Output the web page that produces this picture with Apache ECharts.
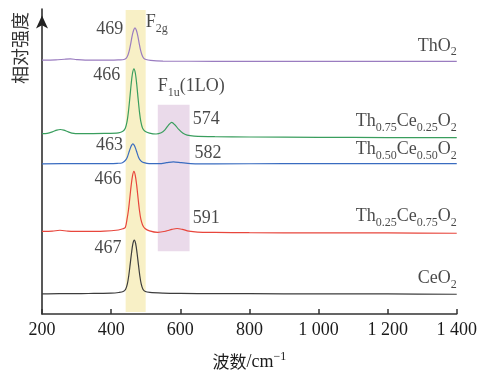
<!DOCTYPE html>
<html><head><meta charset="utf-8">
<script src="https://cdn.jsdelivr.net/npm/echarts@6/dist/echarts.min.js"></script>
<style>html,body{margin:0;padding:0;background:#fff}#c{width:480px;height:376px}</style>
</head><body><div id="c"></div>
<script>
var xTicks = ['200','400','600','800','1 000','1 200','1 400'];
var ceo2 = [[200,6.7],[250,6.8],[300,6.8],[350,6.9],[400,7.0],[422,7.2],[435,7.5],[442,8.3],[447,10.1],[451,12.8],[455,16.5],[459,20.4],[463,23.5],[467,24.7],[471,23.5],[475,20.4],[479,16.5],[483,12.8],[487,10.1],[492,8.3],[499,7.5],[512,7.2],[550,7.0],[600,6.9],[700,6.8],[800,6.8],[1000,6.7],[1200,6.7],[1400,6.6]];
var th25 = [[200,27.6],[230,27.7],[252,28.0],[275,27.7],[320,27.6],[380,27.7],[421,28.1],[434,28.5],[441,28.9],[446,31.7],[450,34.6],[454,38.7],[458,43.0],[462,46.3],[466,47.7],[470,46.3],[474,43.0],[478,38.7],[482,34.6],[486,31.7],[491,29.8],[498,28.6],[511,27.8],[535,27.3],[558,27.7],[576,28.3],[591,28.6],[606,28.3],[625,27.7],[650,27.4],[700,27.3],[800,27.2],[1000,27.1],[1200,27.1],[1400,27.0]];
var th50 = [[200,50.2],[300,50.3],[380,50.3],[418,50.4],[431,50.5],[438,51.0],[443,51.6],[447,52.5],[451,53.9],[455,55.3],[459,56.4],[463,56.9],[467,56.4],[471,55.3],[475,53.9],[479,52.5],[483,51.6],[488,51.0],[495,50.6],[510,50.3],[540,50.3],[560,50.6],[580,50.9],[603,50.6],[630,50.3],[700,50.2],[900,50.3],[1100,50.3],[1400,50.3]];
var th75 = [[200,60.3],[215,60.4],[230,60.9],[243,61.5],[253,61.7],[263,61.5],[276,60.9],[292,60.4],[320,60.3],[380,60.4],[421,60.6],[434,61.1],[441,62.1],[446,64.3],[450,67.6],[454,72.1],[458,76.9],[462,80.6],[466,82.0],[470,80.6],[474,76.9],[478,72.1],[482,67.6],[486,64.3],[491,62.1],[498,61.1],[511,60.5],[530,60.2],[545,60.6],[555,61.5],[565,63.0],[575,64.1],[585,63.2],[595,61.8],[607,60.5],[620,59.8],[640,59.5],[700,59.3],[800,59.2],[1000,59.1],[1200,59.0],[1400,59.0]];
var tho2 = [[200,84.9],[240,85.0],[265,85.2],[282,85.3],[300,85.1],[340,84.9],[400,84.9],[424,85.0],[437,85.1],[444,85.6],[449,86.7],[453,88.3],[457,90.6],[461,93.1],[465,94.9],[469,95.7],[473,94.9],[477,93.1],[481,90.6],[485,88.3],[489,86.7],[494,85.6],[501,85.1],[514,84.8],[550,84.6],[700,84.5],[900,84.5],[1100,84.5],[1400,84.5]];
var bandF2g = [442, 500, 0.7, 101.7];
var bandF1u = [535, 627, 21, 70];
// [x, y, text, align]
var peakLabels = [
  [396, 95.3, '469', 'center'],
  [387, 79.7, '466', 'center'],
  [395, 56.3, '463', 'center'],
  [391, 45.0, '466', 'center'],
  [391, 22.0, '467', 'center'],
  [675, 65.2, '574', 'center'],
  [680, 53.7, '582', 'center'],
  [675, 32.0, '591', 'center'],
  [500, 97.5, '{n|F}{s|2g}', 'left'],
  [535, 76.0, '{n|F}{s|1u}{n|(1LO)}', 'left']
];
var nameLabels = [
  [1400, 89.7, '{n|ThO}{s|2}', 'right'],
  [1400, 64.5, '{n|Th}{s|0.75}{n|Ce}{s|0.25}{n|O}{s|2}', 'right'],
  [1400, 55.2, '{n|Th}{s|0.50}{n|Ce}{s|0.50}{n|O}{s|2}', 'right'],
  [1400, 32.8, '{n|Th}{s|0.25}{n|Ce}{s|0.75}{n|O}{s|2}', 'right'],
  [1400, 11.8, '{n|CeO}{s|2}', 'right']
];
var serif = '"Liberation Serif","Times New Roman",serif';
var tc = '#1a1a1a';
var rich = {
  n: {fontFamily: serif, fontSize: 18, color: tc, lineHeight: 25},
  s: {fontFamily: serif, fontSize: 12, color: tc, lineHeight: 12, verticalAlign: 'bottom'}
};
function mkLabels(arr) {
  return arr.map(function (d) {
    return {value: [d[0], d[1]], label: {formatter: d[2].indexOf('{') === 0 ? d[2] : '{n|' + d[2] + '}', align: d[3]}};
  });
}
var chart = echarts.init(document.getElementById('c'), null, {renderer: 'canvas'});
var lw = 1.2;
chart.setOption({
  animation: false,
  grid: {left: 42, right: 22, top: 9, bottom: 61},
  xAxis: {
    type: 'value', min: 200, max: 1400, interval: 200,
    axisLine: {lineStyle: {color: '#333', width: 1.5}},
    axisTick: {inside: true, length: 5, lineStyle: {color: '#333', width: 1.5}},
    splitLine: {show: false},
    axisLabel: {margin: 7, fontFamily: serif, fontSize: 18, color: tc,
      formatter: function (v) { return xTicks[Math.round((v - 200) / 200)]; }},
    name: '{c|波数}{r|/cm}{p|−1}', nameLocation: 'middle', nameGap: 37,
    nameTextStyle: {rich: {
      c: {fontFamily: '"Noto Sans CJK SC"', fontSize: 17, color: tc, lineHeight: 22},
      r: {fontFamily: serif, fontSize: 18, color: tc, lineHeight: 22},
      p: {fontFamily: serif, fontSize: 12, color: tc, lineHeight: 12, verticalAlign: 'top'}
    }}
  },
  yAxis: {
    type: 'value', min: 0, max: 102,
    axisLine: {show: true, symbol: ['none', 'arrow'], symbolSize: [9, 13], symbolOffset: [0, -6.5], lineStyle: {color: '#222', width: 1.5}},
    axisTick: {show: false}, axisLabel: {show: false}, splitLine: {show: false}
  },
  graphic: [{type: 'text', x: 20, y: 48, rotation: Math.PI / 2,
    style: {text: '相对强度', font: '18px "Noto Sans CJK SC"', fill: '#333', textAlign: 'center', textVerticalAlign: 'middle'}}],
  series: [
    {type: 'line', z: 1, data: [], silent: true,
      markArea: {silent: true, data: [
        [{coord: [bandF2g[0], bandF2g[2]], itemStyle: {color: '#f8f0c6'}}, {coord: [bandF2g[1], bandF2g[3]]}],
        [{coord: [bandF1u[0], bandF1u[2]], itemStyle: {color: '#eadaea'}}, {coord: [bandF1u[1], bandF1u[3]]}]
      ]}},
    {name: 'CeO2', type: 'line', z: 3, data: ceo2, smooth: 0.3, showSymbol: false, lineStyle: {color: '#3d3d3d', width: lw}},
    {name: 'Th0.25', type: 'line', z: 3, data: th25, smooth: 0.3, showSymbol: false, lineStyle: {color: '#e8463c', width: lw}},
    {name: 'Th0.50', type: 'line', z: 3, data: th50, smooth: 0.3, showSymbol: false, lineStyle: {color: '#3a6cc0', width: lw}},
    {name: 'Th0.75', type: 'line', z: 3, data: th75, smooth: 0.3, showSymbol: false, lineStyle: {color: '#3a9e5e', width: lw}},
    {name: 'ThO2', type: 'line', z: 3, data: tho2, smooth: 0.3, showSymbol: false, lineStyle: {color: '#9a7cc0', width: lw}},
    {type: 'scatter', z: 4, symbolSize: 0, silent: true, data: mkLabels(peakLabels.concat(nameLabels)),
      label: {show: true, position: 'inside', rich: rich}}
  ]
});
</script></body></html>
